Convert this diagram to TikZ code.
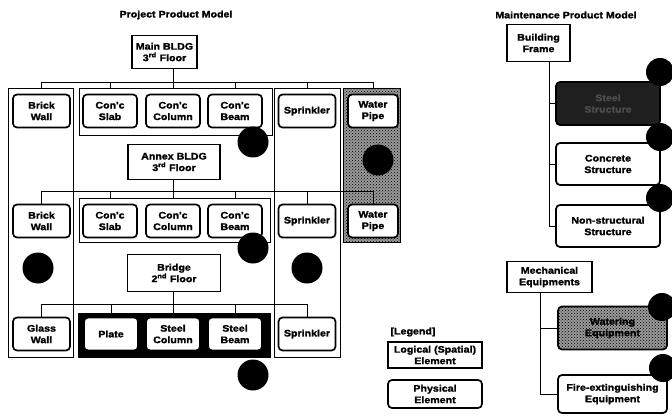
\documentclass[tikz,border=0pt]{standalone}
\usepackage{fontspec}
\newfontfamily\lblfont[FakeStretch=1.12,BoldFeatures={FakeBold=1.6}]{Liberation Sans}
\usetikzlibrary{positioning,patterns}

\begin{document}
\begin{tikzpicture}[x=1pt,y=-1pt,
  lbl/.style={font=\lblfont\bfseries\fontsize{9.5}{11.5}\selectfont},
  logic/.style={lbl,draw,line width=1.3pt,fill=white,align=center,inner sep=2pt},
  phys/.style={lbl,draw,line width=1.7pt,rounded corners=4pt,fill=white,align=center,minimum width=54pt,minimum height=33pt,inner sep=1pt},
  grp/.style={draw,line width=0.6pt},
  hatch/.style={fill=black!40,postaction={pattern=crosshatch dots,pattern color=black}},
  blob/.style={circle,fill=black,minimum size=31pt,inner sep=0pt},
  link/.style={line width=0.6pt}]

\useasboundingbox (0,0) rectangle (672,417);

% titles
\node[lbl] (ttlproj) at (176,15) {Project Product Model};
\node[lbl] (ttlmaint) at (566,15) {Maintenance Product Model};

% columns and groups
\node[grp,fill=white,minimum width=65pt,minimum height=269pt] (col1) at (40.5,222.5) {};
\node[grp,fill=white,minimum width=66pt,minimum height=269pt] (col3) at (307,222.5) {};
\node[grp,hatch,minimum width=57pt,minimum height=154pt] (col4) at (371.5,165) {};
\node[grp,minimum width=193pt,minimum height=47pt] (grp1) at (175.5,111.5) {};
\node[grp,minimum width=191pt,minimum height=44pt] (grp2) at (174.5,220) {};
\node[grp,fill=black,minimum width=192pt,minimum height=44pt] (grp3) at (174,335) {};

% logical nodes
\node[logic,minimum width=65pt,minimum height=33pt] (main) at (164.5,52) {Main BLDG\\3\textsuperscript{rd} Floor};
\node[logic,minimum width=92pt,minimum height=35pt] (annex) at (174,162) {Annex BLDG\\3\textsuperscript{rd} Floor};
\node[logic,minimum width=93pt,minimum height=37pt] (bridge) at (174,273) {Bridge\\2\textsuperscript{nd} Floor};

% row 1
\node[phys,minimum width=57pt] (bw1) at (41.5,111) {Brick\\Wall};
\node[phys] (cs1) at (110,111) {Con'c\\Slab};
\node[phys] (cc1) at (173,111) {Con'c\\Column};
\node[phys] (cb1) at (235,111) {Con'c\\Beam};
\node[phys,minimum width=57pt] (sp1) at (307,111) {Sprinkler};
\node[phys,minimum width=50pt] (wp1) at (373,111) {Water\\Pipe};

% row 2
\node[phys,minimum width=57pt] (bw2) at (41.5,221) {Brick\\Wall};
\node[phys] (cs2) at (110,221) {Con'c\\Slab};
\node[phys] (cc2) at (173,221) {Con'c\\Column};
\node[phys] (cb2) at (235,221) {Con'c\\Beam};
\node[phys,minimum width=57pt] (sp2) at (307,221) {Sprinkler};
\node[phys,minimum width=50pt] (wp2) at (373,221) {Water\\Pipe};

% row 3
\node[phys,minimum width=57pt] (gw3) at (41.5,334) {Glass\\Wall};
\node[phys] (pl3) at (111,334) {Plate};
\node[phys] (sc3) at (173,334) {Steel\\Column};
\node[phys] (sb3) at (235,334) {Steel\\Beam};
\node[phys,minimum width=57pt] (sp3) at (307,334) {Sprinkler};

% buses
\coordinate (bus1) at (0,82);
\coordinate (bus2) at (0,191);
\coordinate (bus3) at (0,304);
\draw[link] (main.south -| cc1) -- (cc1 |- bus1);
\draw[link] (bw1 |- bus1) -- (wp1 |- bus1);
\foreach \n/\m in {bw1/col1,cs1/grp1,cc1/grp1,cb1/grp1,sp1/col3,wp1/col4}
  \draw[link] (\n |- bus1) -- (\n |- \m.north);
\draw[link] (annex.south -| cc2) -- (cc2 |- bus2);
\draw[link] (bw2 |- bus2) -- (wp2 |- bus2);
\foreach \n/\m in {bw2/bw2,cs2/grp2,cc2/grp2,cb2/grp2,sp2/sp2,wp2/wp2}
  \draw[link] (\n |- bus2) -- (\n |- \m.north);
\draw[link] (bridge.south -| sc3) -- (sc3 |- bus3);
\draw[link] (gw3 |- bus3) -- (sp3 |- bus3);
\foreach \n/\m in {gw3/gw3,pl3/grp3,sc3/grp3,sb3/grp3,sp3/sp3}
  \draw[link] (\n |- bus3) -- (\n |- \m.north);

% dots
\node[blob] (d1) at (253,142) {};
\node[blob] (d2) at (378,160) {};
\node[blob] (d3) at (253,248) {};
\node[blob] (d4) at (38,268) {};
\node[blob] (d5) at (307,268) {};
\node[blob] (d6) at (253,375) {};

% legend
\node[lbl,anchor=west] (leg) at (387,332) {[Legend]};
\node[logic,minimum width=94pt,minimum height=26pt,inner sep=1pt] (leglog) at (435,355) {Logical (Spatial)\\Element};
\node[phys,minimum width=94pt,minimum height=28pt] (legphys) at (435,394) {Physical\\Element};

% maintenance model
\node[logic,minimum width=63pt,minimum height=37pt] (frame) at (538.5,43) {Building\\Frame};
\node[phys,fill=black!88,text=black!70,minimum width=104pt,minimum height=43pt] (steel) at (608,103.5) {Steel\\Structure};
\node[phys,minimum width=104pt,minimum height=42pt] (conc) at (608,164) {Concrete\\Structure};
\node[phys,minimum width=104pt,minimum height=42pt] (nonst) at (608,226) {Non-structural\\Structure};
\draw[link] ([xshift=10.5pt]frame.south) |- (steel.west);
\draw[link] ([xshift=10.5pt]frame.south) |- (conc.west);
\draw[link] ([xshift=10.5pt]frame.south) |- (nonst.west);

\node[logic,minimum width=85pt,minimum height=31pt] (mech) at (549.5,277) {Mechanical\\Equipments};
\node[phys,hatch,minimum width=109pt,minimum height=43pt] (watering) at (612.5,328) {Watering\\Equipment};
\node[phys,minimum width=109pt,minimum height=38pt] (fire) at (612.5,394) {Fire-extinguishing\\Equipment};
\draw[link] ([xshift=-9.5pt]mech.south) |- (watering.west);
\draw[link] ([xshift=-9.5pt]mech.south) |- (fire.west);

\node[blob,minimum size=28pt] (m1) at (660,72) {};
\node[blob,minimum size=28pt] (m2) at (660,137) {};
\node[blob,minimum size=28pt] (m3) at (660,198) {};
\node[blob,minimum size=28pt] (m4) at (662,307) {};
\node[blob,minimum size=28pt] (m5) at (663,368) {};

\end{tikzpicture}
\end{document}
